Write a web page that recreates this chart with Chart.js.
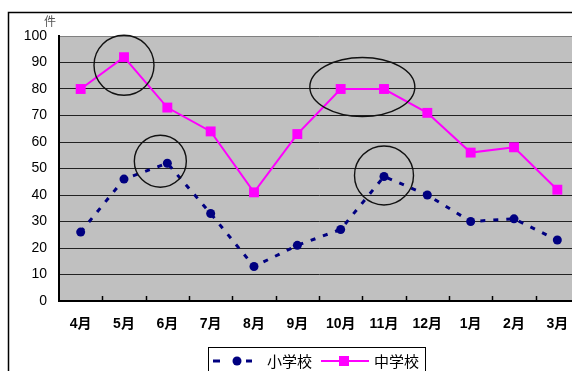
<!DOCTYPE html>
<html>
<head>
<meta charset="utf-8">
<script src="https://cdn.jsdelivr.net/npm/chart.js@4/dist/chart.umd.min.js"></script>
<style>
  html, body { margin: 0; padding: 0; overflow: hidden; background: #fff; }
  canvas { display: block; }
</style>
</head>
<body>
<canvas id="c" width="590" height="371" style="width:590px;height:371px"></canvas>
<script>
// Monthly counts, April through March
const months = ['4月', '5月', '6月', '7月', '8月', '9月', '10月', '11月', '12月', '1月', '2月', '3月'];
const elementary = [26, 46, 52, 33, 13, 21, 27, 47, 40, 30, 31, 23];
const juniorHigh = [80, 92, 73, 64, 41, 63, 80, 80, 71, 56, 58, 42];
const seriesNames = ['小学校', '中学校'];
const unitLabel = '件';
const yMin = 0, yMax = 100, yStep = 10;

// Hand-drawn style rings around notable points (series index, first/last point index)
const highlights = [
  { series: 1, from: 1, to: 1, dx: 0,  dy: 8,  rx: 30,   ry: 30 },
  { series: 0, from: 2, to: 2, dx: -7, dy: -2, rx: 26,   ry: 26 },
  { series: 1, from: 6, to: 7, dx: 0,  dy: -2, rx: 52.5, ry: 29.5 },
  { series: 0, from: 7, to: 7, dx: 0,  dy: -1, rx: 29.5, ry: 29.5 }
];

const NAVY = '#000080';
const PINK = '#FF00FF';
const CJK = '"Liberation Sans", Arial, "Noto Sans CJK JP", sans-serif';

const decor = {
  id: 'decor',
  beforeDraw(chart) {
    const { ctx, chartArea: a } = chart;
    ctx.save();
    ctx.fillStyle = '#fff';
    ctx.fillRect(0, 0, chart.width, chart.height);
    // outer frame
    ctx.strokeStyle = '#000';
    ctx.lineWidth = 1.5;
    ctx.strokeRect(8.5, 12.5, chart.width + 20, chart.height + 20);
    // plot background
    ctx.fillStyle = '#C0C0C0';
    ctx.fillRect(a.left, a.top, a.right - a.left, a.bottom - a.top);
    ctx.restore();
  },
  afterDatasetsDraw(chart) {
    const { ctx } = chart;
    ctx.save();
    ctx.strokeStyle = '#111';
    ctx.lineWidth = 1.4;
    highlights.forEach(h => {
      const pts = chart.getDatasetMeta(h.series).data;
      const p0 = pts[h.from], p1 = pts[h.to];
      const cx = (p0.x + p1.x) / 2 + h.dx;
      const cy = (p0.y + p1.y) / 2 + h.dy;
      ctx.beginPath();
      ctx.ellipse(cx, cy, h.rx, h.ry, 0, 0, Math.PI * 2);
      ctx.stroke();
    });
    ctx.restore();
  },
  afterDraw(chart) {
    const { ctx, chartArea: a } = chart;
    const xs = chart.scales.x;
    ctx.save();
    // inward tick marks between categories
    ctx.strokeStyle = '#000';
    ctx.lineWidth = 1.5;
    for (let i = 0; i < months.length - 1; i++) {
      const x = Math.round((xs.getPixelForValue(i) + xs.getPixelForValue(i + 1)) / 2) + 0.5;
      ctx.beginPath();
      ctx.moveTo(x, a.bottom);
      ctx.lineTo(x, a.bottom - 5);
      ctx.stroke();
    }
    // unit label
    ctx.fillStyle = '#555';
    ctx.font = '12px "Noto Sans CJK JP", sans-serif';
    ctx.textAlign = 'left';
    ctx.textBaseline = 'middle';
    ctx.fillText(unitLabel, 44, 21);

    // legend
    ctx.fillStyle = '#fff';
    ctx.fillRect(208.5, 347.5, 217, 40);
    ctx.strokeStyle = '#000';
    ctx.lineWidth = 1;
    ctx.strokeRect(208.5, 347.5, 217, 40);
    const ly = 361;
    // elementary sample: dashes + circle
    ctx.strokeStyle = NAVY;
    ctx.lineWidth = 3;
    ctx.beginPath();
    ctx.moveTo(213, ly); ctx.lineTo(220, ly);
    ctx.moveTo(246, ly); ctx.lineTo(252, ly);
    ctx.stroke();
    ctx.fillStyle = NAVY;
    ctx.beginPath();
    ctx.arc(237, ly, 4.5, 0, Math.PI * 2);
    ctx.fill();
    // junior high sample: line + square
    ctx.strokeStyle = PINK;
    ctx.lineWidth = 2;
    ctx.beginPath();
    ctx.moveTo(321, ly); ctx.lineTo(369, ly);
    ctx.stroke();
    ctx.fillStyle = PINK;
    ctx.fillRect(339, ly - 5, 10, 10);
    // legend text
    ctx.fillStyle = '#000';
    ctx.font = '15px "Noto Sans CJK JP", sans-serif';
    ctx.textAlign = 'left';
    ctx.textBaseline = 'middle';
    ctx.fillText(seriesNames[0], 267, ly);
    ctx.fillText(seriesNames[1], 374, ly);
    ctx.restore();
  }
};

new Chart(document.getElementById('c'), {
  type: 'line',
  data: {
    labels: months,
    datasets: [
      {
        label: seriesNames[0],
        data: elementary,
        borderColor: NAVY,
        backgroundColor: NAVY,
        borderWidth: 3,
        borderDash: [5, 8],
        pointStyle: 'circle',
        pointRadius: 4.5,
        pointBorderWidth: 0,
        tension: 0
      },
      {
        label: seriesNames[1],
        data: juniorHigh,
        borderColor: PINK,
        backgroundColor: PINK,
        borderWidth: 2,
        pointStyle: 'rect',
        pointRadius: 7,
        pointBorderWidth: 0,
        tension: 0
      }
    ]
  },
  options: {
    responsive: false,
    animation: false,
    layout: { padding: { top: 36, right: 11, left: 0, bottom: 0 } },
    plugins: { legend: { display: false }, tooltip: { enabled: false } },
    scales: {
      x: {
        offset: true,
        grid: { display: false, drawTicks: false },
        border: { display: true, color: '#000', width: 2 },
        ticks: {
          color: '#000',
          padding: 15,
          maxRotation: 0,
          autoSkip: false,
          font: { family: CJK, size: 14, weight: 'bold' }
        },
        afterFit(s) { s.height = 70; }
      },
      y: {
        min: yMin,
        max: yMax,
        grid: {
          drawTicks: false,
          color: c => (c.tick && c.tick.value === yMax) ? '#808080' : '#222',
          lineWidth: 1
        },
        border: { display: true, color: '#000', width: 2 },
        ticks: {
          stepSize: yStep,
          color: '#000',
          padding: 12,
          font: { family: CJK, size: 14 }
        },
        afterFit(s) { s.width = 59; }
      }
    }
  },
  plugins: [decor]
});
</script>
</body>
</html>
